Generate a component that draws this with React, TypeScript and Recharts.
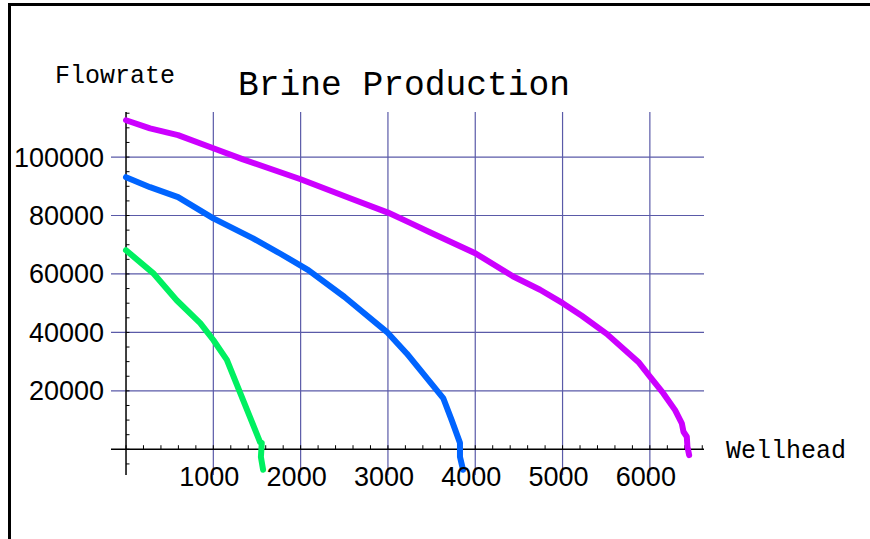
import * as React from "react"
import { LineChart, Line, XAxis, YAxis, ReferenceLine } from "recharts"

// wellhead pressure (x) vs flowrate (y)
const purpleHead = [0, 275, 596, 1000, 1340, 2000, 2566, 3000, 3260, 3480, 4000, 4430, 4742, 5002, 5220, 5506, 5868, 6003, 6155, 6289, 6366, 6385, 6423, 6430, 6450]
const purpleFlow = [112600, 109800, 107500, 103000, 99200, 92400, 85900, 81000, 77400, 74300, 67100, 59200, 54600, 50000, 45700, 39500, 29900, 24800, 19100, 13400, 8900, 6000, 4300, 900, -2000]

const blueHead = [0, 275, 596, 1000, 1455, 1764, 2088, 2500, 2986, 3215, 3635, 3730, 3825, 3825, 3860]
const blueFlow = [93100, 89700, 86300, 79000, 72200, 67000, 61300, 52200, 40200, 32800, 17400, 10000, 2200, -2600, -7000]

const greenHead = [0, 310, 580, 850, 1000, 1155, 1340, 1420, 1535, 1555, 1545, 1570]
const greenFlow = [68100, 60300, 51000, 43200, 37400, 30600, 16900, 11000, 2500, 2200, -2600, -7000]

const xTicks = [1000, 2000, 3000, 4000, 5000, 6000]
const yTicks = [20000, 40000, 60000, 80000, 100000]
const xMinor = Array.from({ length: 34 }, (_, i) => i * 200)
const yMinor = Array.from({ length: 25 }, (_, i) => -5000 + i * 5000)

const zip = (xs: number[], ys: number[]) => xs.map((x, i) => ({ x, y: ys[i] }))

const numFont = "'Liberation Sans', Arial, sans-serif"
const monoFont = "'Liberation Mono', 'Courier New', monospace"
const gridColor = "#5a5aa8"

const renderXTick = (props: any) => (
  <text x={props.x - 4} y={486} textAnchor="middle" fontSize={27} fontFamily={numFont} fill="#000">
    {props.payload.value}
  </text>
)

const renderYTick = (props: any) => (
  <text x={104} y={props.y + 9.5} textAnchor="end" fontSize={27} fontFamily={numFont} fill="#000">
    {props.payload.value}
  </text>
)

export default function App() {
  return (
    <div style={{ position: "absolute", left: 0, top: 0, width: 870, height: 539, background: "#fff" }}>
      <div
        style={{
          position: "absolute",
          left: 8,
          top: 3,
          width: 862,
          height: 536,
          borderLeft: "3px solid #000",
          borderTop: "3px solid #000",
          boxSizing: "border-box",
        }}
      />
      <LineChart
        width={870}
        height={539}
        margin={{ top: 112, right: 166, bottom: 24, left: 11 }}
        style={{ position: "absolute", left: 0, top: 0 }}
      >
        <XAxis
          type="number"
          dataKey="x"
          domain={[-172, 6620]}
          ticks={xTicks}
          height={40}
          axisLine={false}
          tickLine={false}
          tick={renderXTick}
          interval={0}
          allowDataOverflow
        />
        <YAxis
          type="number"
          dataKey="y"
          domain={[-8790, 115420]}
          ticks={yTicks}
          width={100}
          axisLine={false}
          tickLine={false}
          tick={renderYTick}
          interval={0}
          allowDataOverflow
        />
        {xTicks.map((v) => (
          <ReferenceLine key={`gx-${v}`} x={v} stroke={gridColor} strokeWidth={1.2} />
        ))}
        {yTicks.map((v) => (
          <ReferenceLine key={`gy-${v}`} y={v} stroke={gridColor} strokeWidth={1.2} />
        ))}
        <ReferenceLine x={0} stroke="#000" strokeWidth={1.5} />
        <ReferenceLine y={0} stroke="#000" strokeWidth={1.5} />
        {xMinor.map((v) => (
          <ReferenceLine
            key={`xm-${v}`}
            segment={[{ x: v, y: 0 }, { x: v, y: 1400 }]}
            stroke="#000"
            strokeWidth={1}
          />
        ))}
        {yMinor.map((v) => (
          <ReferenceLine
            key={`ym-${v}`}
            segment={[{ x: 0, y: v }, { x: 40, y: v }]}
            stroke="#000"
            strokeWidth={1}
          />
        ))}
        <Line data={zip(purpleHead, purpleFlow)} dataKey="y" type="linear" stroke="#cc00ff" strokeWidth={6} strokeLinecap="round" strokeLinejoin="round" dot={false} isAnimationActive={false} />
        <Line data={zip(blueHead, blueFlow)} dataKey="y" type="linear" stroke="#0064ff" strokeWidth={6} strokeLinecap="round" strokeLinejoin="round" dot={false} isAnimationActive={false} />
        <Line data={zip(greenHead, greenFlow)} dataKey="y" type="linear" stroke="#00f060" strokeWidth={6} strokeLinecap="round" strokeLinejoin="round" dot={false} isAnimationActive={false} />
      </LineChart>
      <svg width={870} height={539} style={{ position: "absolute", left: 0, top: 0, pointerEvents: "none" }}>
        <text x={238} y={95} fontSize={34.6} fontFamily={monoFont} fill="#000">Brine Production</text>
        <text x={55} y={83} fontSize={25} fontFamily={monoFont} fill="#000">Flowrate</text>
        <text x={726} y={458} fontSize={25} fontFamily={monoFont} fill="#000">Wellhead</text>
      </svg>
    </div>
  )
}
